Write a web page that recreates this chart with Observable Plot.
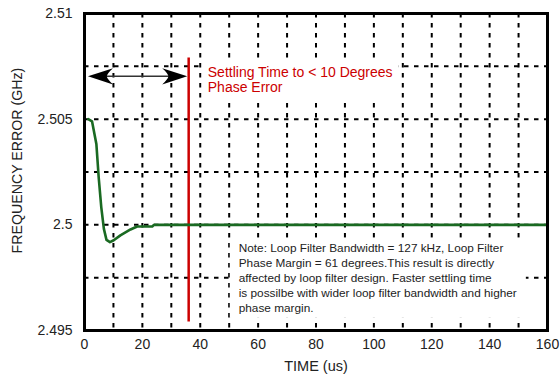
<!DOCTYPE html>
<html>
<head>
<meta charset="utf-8">
<script src="https://cdn.jsdelivr.net/npm/d3@7"></script>
<script src="https://cdn.jsdelivr.net/npm/@observablehq/plot@0.6"></script>
<style>
  html, body { margin: 0; padding: 0; background: #fff; }
  body { width: 560px; height: 375px; overflow: hidden; }
</style>
</head>
<body>
<script>
// ---- data ----
const timeUs = [1.3, 2.6, 4.1, 4.9, 5.8, 6.7, 7.6, 8.8, 10.1, 12.4, 15.9, 18.2, 23.4, 24, 160];
const freqErrGHz = [2.505, 2.5049, 2.50383, 2.50225, 2.50083, 2.49981, 2.49929, 2.49918, 2.49927, 2.4995, 2.49978, 2.49992, 2.49992, 2.5, 2.5];

const xTicks = [0, 20, 40, 60, 80, 100, 120, 140, 160];
const yTicks = [2.495, 2.5, 2.505, 2.51];
const yTickLabels = ["2.495", "2.5", "2.505", "2.51"];
const xGrid = [10, 20, 30, 40, 50, 60, 70, 80, 90, 100, 110, 120, 130, 140, 150];
const yGrid = [2.4975, 2.5, 2.5025, 2.505, 2.5075];

const xAxisLabel = "TIME (us)";
const yAxisLabel = "FREQUENCY ERROR (GHz)";
const yAxisLabelCenter = 2.50304;

const settleTime = 36;
const settleSpanLow = 2.4954;
const settleSpanHigh = 2.5079;
const arrowX = [1.2, 35.5];
const arrowY = 2.50703;
const arrowRotate = [180, 0];

const settleLabel = "Settling Time to < 10 Degrees\nPhase Error";
const settleLabelX = 42.6;
const settleLabelY = 2.50687;
const noteLabel = "Note: Loop Filter Bandwidth = 127 kHz, Loop Filter\nPhase Margin = 61 degrees.This result is directly\naffected by loop filter design. Faster settling time\nis possilbe with wider loop filter bandwidth and higher\nphase margin.";
const noteLabelX = 53.3;
const noteLabelY = 2.49753;

const curve = timeUs.map((t, i) => ({t, f: freqErrGHz[i]}));
const settleRule = [{x: settleTime, y1: settleSpanLow, y2: settleSpanHigh}];
const arrowShaft = [{x1: arrowX[0] + 2, x2: arrowX[1] - 2, y: arrowY}];
const arrowHeads = arrowX.map((x, i) => ({x, y: arrowY, rot: arrowRotate[i]}));
const labels = [{x: settleLabelX, y: settleLabelY, text: settleLabel}];
const notes = [{x: noteLabelX, y: noteLabelY, text: noteLabel}];

// filled, swept-back arrowhead; tip at the anchor point, pointing right
const arrowHead = {
  draw(ctx, size) {
    const r = Math.sqrt(size / Math.PI);
    ctx.moveTo(0, 0);
    ctx.quadraticCurveTo(-0.9 * r, -0.3 * r, -2 * r, -0.65 * r);
    ctx.quadraticCurveTo(-1.55 * r, -0.25 * r, -1.5 * r, 0);
    ctx.quadraticCurveTo(-1.55 * r, 0.25 * r, -2 * r, 0.65 * r);
    ctx.quadraticCurveTo(-0.9 * r, 0.3 * r, 0, 0);
    ctx.closePath();
  }
};

const dash = "4.5,5.5";

const chart = Plot.plot({
  width: 560,
  height: 375,
  marginLeft: 84,
  marginRight: 13,
  marginTop: 13,
  marginBottom: 45,
  style: {fontFamily: "'Liberation Sans', Arial, sans-serif", fontSize: "14px", color: "#222", background: "#fff"},
  x: {
    domain: [0, 160],
    ticks: xTicks,
    tickSize: 0,
    tickPadding: 9,
    label: null
  },
  y: {
    domain: [2.495, 2.51],
    ticks: yTicks,
    tickFormat: d => yTickLabels[yTicks.indexOf(d)] ?? String(d),
    tickSize: 0,
    tickPadding: 12,
    label: null
  },
  marks: [
    Plot.ruleX(xGrid, {stroke: "#000", strokeWidth: 2, strokeDasharray: dash}),
    Plot.ruleY(yGrid, {stroke: "#000", strokeWidth: 2, strokeDasharray: dash}),
    Plot.text(labels, {
      x: "x", y: "y", text: "text",
      textAnchor: "start", lineAnchor: "middle", lineHeight: 1.07,
      fill: "#cc0000", fontSize: 14
    }),
    Plot.text(notes, {
      x: "x", y: "y", text: "text",
      textAnchor: "start", lineAnchor: "middle", lineHeight: 1.27,
      fill: "#222", fontSize: 11.8
    }),
    Plot.ruleX(settleRule, {x: "x", y1: "y1", y2: "y2", stroke: "#cc0000", strokeWidth: 2.5}),
    Plot.link(arrowShaft, {x1: "x1", x2: "x2", y1: "y", y2: "y", stroke: "#333", strokeWidth: 1.3}),
    Plot.dot(arrowHeads, {x: "x", y: "y", rotate: "rot", symbol: arrowHead, r: 12.5, fill: "#000", stroke: "none"}),
    Plot.line(curve, {x: "t", y: "f", stroke: "#1a6a22", strokeWidth: 2.6}),
    Plot.frame({stroke: "#000", strokeWidth: 3}),
    // axis titles
    Plot.text([xAxisLabel], {
      frameAnchor: "bottom", text: d => d, dy: 36,
      lineAnchor: "middle", fill: "#222", fontSize: 14.5
    }),
    Plot.text([yAxisLabel], {
      frameAnchor: "left", y: () => yAxisLabelCenter, text: d => d, dx: -67, rotate: -90,
      textAnchor: "middle", lineAnchor: "middle", fill: "#222", fontSize: 14.2
    })
  ]
});

document.body.append(chart);

// white backgrounds behind the two annotations (sized from the rendered text)
const ns = "http://www.w3.org/2000/svg";
function backdrop(prefix, padX, padY) {
  const t = Array.from(chart.querySelectorAll("text")).find(el => el.textContent.startsWith(prefix));
  if (!t) return;
  const b = t.getBBox();
  const r = document.createElementNS(ns, "rect");
  r.setAttribute("x", b.x - padX);
  r.setAttribute("y", b.y - padY);
  r.setAttribute("width", b.width + 2 * padX);
  r.setAttribute("height", b.height + 2 * padY);
  r.setAttribute("fill", "#fff");
  if (t.getAttribute("transform")) r.setAttribute("transform", t.getAttribute("transform"));
  t.parentNode.insertBefore(r, t);
}
backdrop("Settling", 6, 5);
backdrop("Note:", 9, 3);
</script>
</body>
</html>
